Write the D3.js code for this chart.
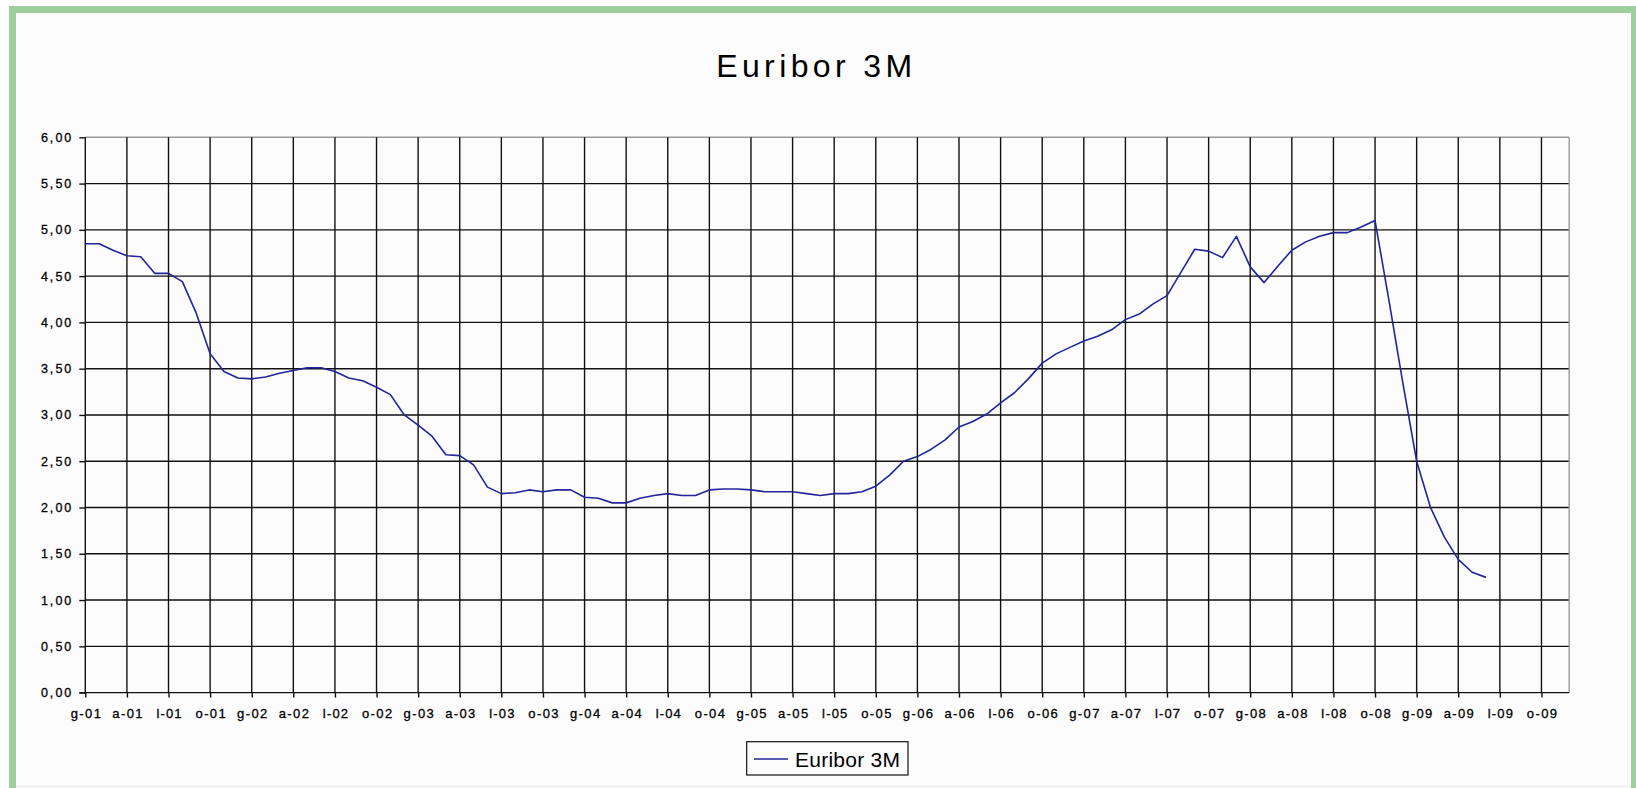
<!DOCTYPE html>
<html><head><meta charset="utf-8">
<script src="https://cdn.jsdelivr.net/npm/d3@7"></script>
<style>html,body{margin:0;padding:0;background:#fff;} svg{display:block;}</style>
</head><body>
<svg id="chart" width="1636" height="788"></svg>
<script>
// ---------- data ----------
const chartTitle = "Euribor 3M";
const seriesName = "Euribor 3M";
// monthly values, Jan 2001 .. Jun 2009
const values2001 = [4.85, 4.85, 4.78, 4.72, 4.71, 4.53, 4.53, 4.44, 4.10, 3.66, 3.47, 3.40];
const values2002 = [3.39, 3.41, 3.45, 3.48, 3.51, 3.51, 3.47, 3.40, 3.37, 3.30, 3.22, 3.00];
const values2003 = [2.89, 2.77, 2.57, 2.56, 2.46, 2.22, 2.15, 2.16, 2.19, 2.17, 2.19, 2.19];
const values2004 = [2.11, 2.10, 2.05, 2.05, 2.10, 2.13, 2.15, 2.13, 2.13, 2.19, 2.20, 2.20];
const values2005 = [2.19, 2.17, 2.17, 2.17, 2.15, 2.13, 2.15, 2.15, 2.17, 2.23, 2.35, 2.50];
const values2006 = [2.55, 2.63, 2.73, 2.87, 2.93, 3.01, 3.13, 3.24, 3.39, 3.56, 3.66, 3.73];
const values2007 = [3.80, 3.85, 3.92, 4.03, 4.09, 4.20, 4.29, 4.54, 4.79, 4.77, 4.70, 4.93];
const values2008 = [4.60, 4.43, 4.61, 4.78, 4.87, 4.93, 4.97, 4.97, 5.03, 5.10, 4.24, 3.35];
const values2009 = [2.50, 2.00, 1.68, 1.44, 1.30, 1.245];
const years = ["01","02","03","04","05","06","07","08","09"];
const monthLetters = ["g","f","m","a","m","g","l","a","s","o","n","d"];
const xTickLabels = ["g-01","a-01","l-01","o-01","g-02","a-02","l-02","o-02","g-03","a-03","l-03","o-03",
  "g-04","a-04","l-04","o-04","g-05","a-05","l-05","o-05","g-06","a-06","l-06","o-06",
  "g-07","a-07","l-07","o-07","g-08","a-08","l-08","o-08","g-09","a-09","l-09","o-09"];
const yTicks = [0, 0.5, 1, 1.5, 2, 2.5, 3, 3.5, 4, 4.5, 5, 5.5, 6];

const values = [].concat(values2001, values2002, values2003, values2004, values2005,
                         values2006, values2007, values2008, values2009);
// category axis: one slot per month, Jan 2001 .. Dec 2009
const categories = [];
years.forEach(yy => monthLetters.forEach(m => categories.push(m + "-" + yy)));

// ---------- layout ----------
const W = 1636, H = 788;
const X0 = 85.3, X1 = 1569.2, Y0 = 692.6, Y1 = 137.3;
const svg = d3.select("#chart");
const FONT = "'Liberation Sans', Arial, sans-serif";

svg.append("rect").attr("width", W).attr("height", H).attr("fill", "#fff");
svg.append("rect").attr("x", 12.5).attr("y", 9.5).attr("width", 1622).attr("height", 820)
  .attr("fill", "#fcfcfc").attr("stroke", "#9ccf9c").attr("stroke-width", 7);
svg.append("line").attr("x1", 16).attr("x2", 1631).attr("y1", 786.5).attr("y2", 786.5)
  .attr("stroke", "#ececec").attr("stroke-width", 1);

const x = d3.scaleLinear().domain([0, categories.length - 1]).range([X0, X1]);
const y = d3.scaleLinear().domain([0, 6]).range([Y0, Y1]);
const tickIdx = xTickLabels.map((d, i) => i * 3);

// gridlines
svg.append("g").selectAll("line").data(yTicks.filter(v => v > 0)).join("line")
  .attr("x1", X0).attr("x2", X1).attr("y1", d => y(d)).attr("y2", d => y(d))
  .attr("stroke", d => d === 6 ? "#9a9a9a" : "#111").attr("stroke-width", 1.4);
svg.append("g").selectAll("line").data(tickIdx.filter(i => i > 0).concat([categories.length - 1])).join("line")
  .attr("x1", d => x(d)).attr("x2", d => x(d)).attr("y1", Y1).attr("y2", Y0)
  .attr("stroke", d => d === categories.length - 1 ? "#9a9a9a" : "#111").attr("stroke-width", 1.4);

// axes
const fmt = d => d3.format(".2f")(d).replace(".", ",");
const gy = svg.append("g").attr("transform", `translate(${X0},0)`)
  .call(d3.axisLeft(y).tickValues(yTicks).tickSize(6).tickPadding(8).tickFormat(fmt));
const gx = svg.append("g").attr("transform", `translate(0,${Y0})`)
  .call(d3.axisBottom(x).tickValues(tickIdx).tickSize(5).tickPadding(11.5).tickFormat((d, i) => xTickLabels[i]));
[gy, gx].forEach(g => {
  g.select(".domain").remove();
  g.selectAll(".tick line").attr("stroke", "#111").attr("stroke-width", 1.4);
  g.selectAll("text").attr("font-family", FONT).attr("fill", "#000")
    .attr("stroke", "#000").attr("stroke-width", 0.3);
});
gy.selectAll("text").attr("font-size", 12.5);
gx.selectAll("text").attr("font-size", 13);
function spread(sel, f) {
  sel.each(function () {
    const L = this.getComputedTextLength();
    d3.select(this).attr("textLength", L * f).attr("lengthAdjust", "spacing");
  });
}
spread(gy.selectAll("text"), 1.25);
spread(gx.selectAll("text"), 1.16);

svg.append("line").attr("x1", X0).attr("x2", X0).attr("y1", Y1).attr("y2", Y0).attr("stroke", "#111").attr("stroke-width", 1.4);
svg.append("line").attr("x1", X0 - 6).attr("x2", X1).attr("y1", Y0).attr("y2", Y0).attr("stroke", "#111").attr("stroke-width", 1.4);

// series line
const line = d3.line().x((d, i) => x(i)).y(d => y(d));
svg.append("path").datum(values).attr("d", line)
  .attr("fill", "none").attr("stroke", "#23239a").attr("stroke-width", 1.6).attr("stroke-linejoin", "round");

// title
svg.append("text").attr("x", 814.2).attr("y", 77).attr("text-anchor", "middle")
  .attr("font-family", FONT).attr("font-size", 32).attr("fill", "#000")
  .attr("textLength", 196).attr("lengthAdjust", "spacing").text(chartTitle);

// legend
const lg = svg.append("g");
lg.append("rect").attr("x", 746.7).attr("y", 741.7).attr("width", 161.3).attr("height", 33.3)
  .attr("fill", "#fcfcfc").attr("stroke", "#111").attr("stroke-width", 1.2);
lg.append("line").attr("x1", 754).attr("x2", 788).attr("y1", 759).attr("y2", 759)
  .attr("stroke", "#23239a").attr("stroke-width", 1.6);
lg.append("text").attr("x", 795).attr("y", 766.7).attr("font-family", FONT).attr("font-size", 21)
  .attr("fill", "#000").attr("textLength", 105).attr("lengthAdjust", "spacing").text(seriesName);
</script>
</body></html>
